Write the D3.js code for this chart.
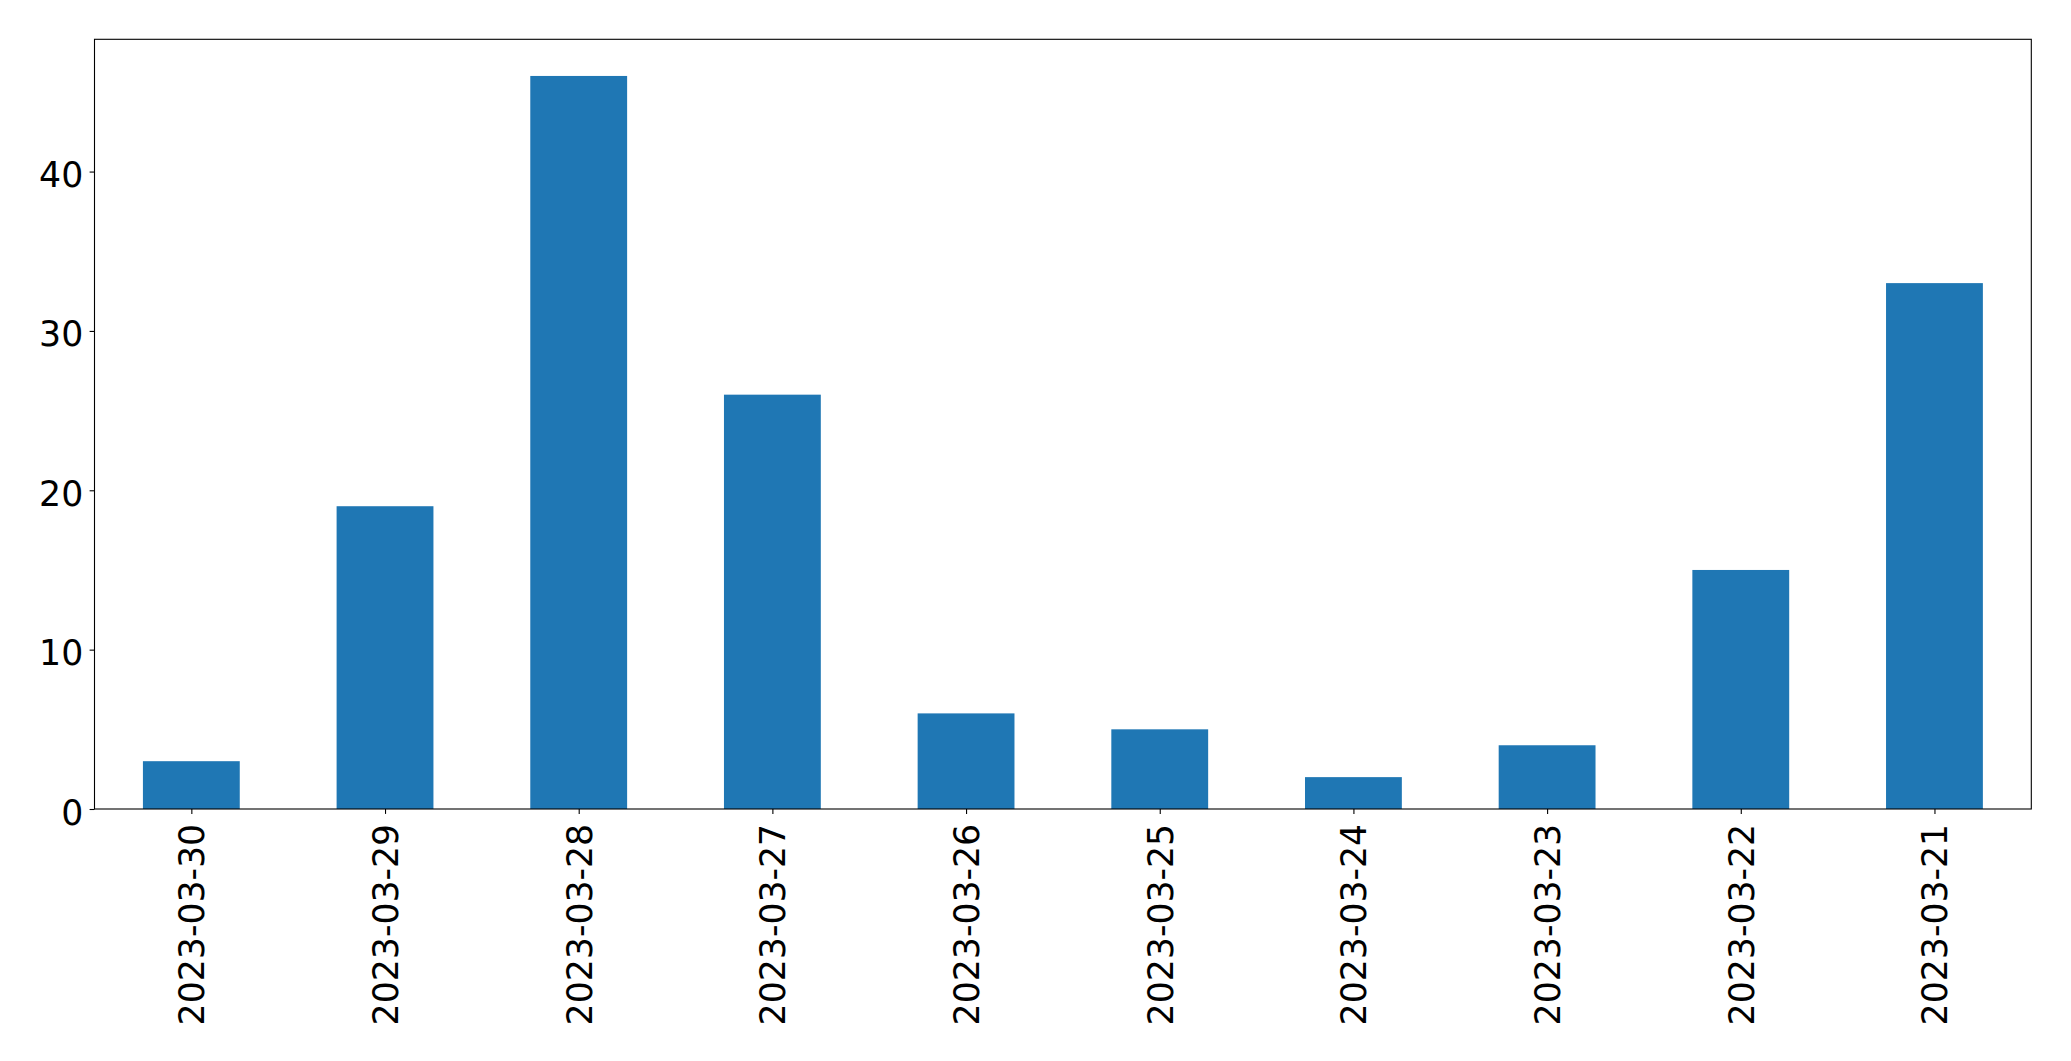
<!DOCTYPE html>
<html><head><meta charset="utf-8">
<script src="https://cdn.jsdelivr.net/npm/d3@7"></script>
<style>html,body{margin:0;padding:0;background:#fff;}svg{display:block;}</style>
</head><body>
<script>
const categories = ["2023-03-30","2023-03-29","2023-03-28","2023-03-27","2023-03-26","2023-03-25","2023-03-24","2023-03-23","2023-03-22","2023-03-21"];
const values = [3,19,46,26,6,5,2,4,15,33];
const yTicks = [0,10,20,30,40];

const W = 2071, H = 1061;
const L = 94.5, R = 2031.3, T = 39.3, B = 809;
const fs = 34.7, tickLen = 4.9, pad = 4.9;
const font = "'DejaVu Sans', sans-serif";

const svg = d3.select("body").append("svg").attr("width", W).attr("height", H);
const x = d3.scaleLinear().domain([-0.5, categories.length - 0.5]).range([L, R]);
const yMax = d3.max(values) * 1.05;
const y = d3.scaleLinear().domain([0, yMax]).range([B, T]);

svg.append("g").selectAll("rect").data(values).join("rect")
  .attr("x", (d, i) => x(i - 0.25)).attr("width", (d, i) => x(i + 0.25) - x(i - 0.25))
  .attr("y", d => y(d)).attr("height", d => y(0) - y(d))
  .attr("fill", "#1f77b4");

// frame
svg.append("rect").attr("x", L).attr("y", T).attr("width", R - L).attr("height", B - T)
  .attr("fill", "none").attr("stroke", "#000").attr("stroke-width", 1.1);

// y axis
const yAxis = d3.axisLeft(y).tickValues(yTicks).tickSize(tickLen).tickPadding(pad).tickFormat(d3.format("d"));
const gy = svg.append("g").attr("transform", `translate(${L},0)`).call(yAxis);
gy.select(".domain").remove();
gy.selectAll(".tick line").attr("stroke", "#000").attr("stroke-width", 1.1);
gy.selectAll(".tick text").attr("font-family", font).attr("font-size", fs).attr("fill", "#000")
  .attr("dy", null).attr("y", 15).attr("x", -(tickLen + pad + 1.5));

// x axis
const xAxis = d3.axisBottom(x).tickValues(d3.range(categories.length)).tickSize(tickLen).tickFormat(i => categories[i]);
const gx = svg.append("g").attr("transform", `translate(0,${B})`).call(xAxis);
gx.select(".domain").remove();
gx.selectAll(".tick line").attr("stroke", "#000").attr("stroke-width", 1.1);
gx.selectAll(".tick text").attr("font-family", font).attr("font-size", fs).attr("fill", "#000")
  .attr("dy", null).attr("x", 0).attr("y", 0)
  .attr("text-anchor", "end")
  .attr("transform", `translate(12.5,${tickLen + pad + 5}) rotate(-90)`);
</script>
</body></html>
